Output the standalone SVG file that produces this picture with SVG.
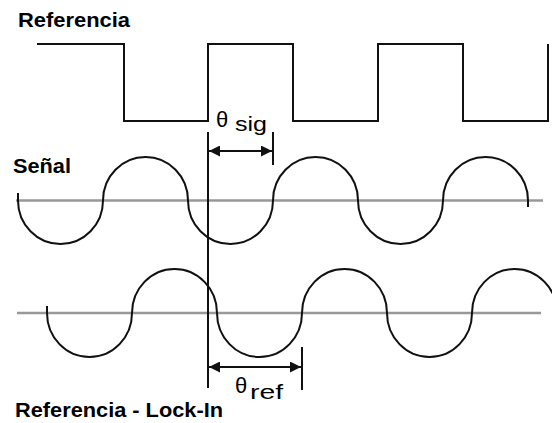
<svg xmlns="http://www.w3.org/2000/svg" width="552" height="423" viewBox="0 0 552 423">
<style>
.lbl{font-family:"Liberation Sans",Arial,sans-serif;font-weight:bold;font-size:20px;fill:#000}
.th{font-family:"Liberation Sans","DejaVu Sans",Arial,sans-serif;font-size:22px;fill:#000}
.sub{font-family:"Liberation Sans",Arial,sans-serif;font-size:20px;fill:#000}
.wave{fill:none;stroke:#111;stroke-width:2}
.axis{fill:none;stroke:#999;stroke-width:2.5}
.ln{fill:none;stroke:#111;stroke-width:2}
</style>
<defs>
<marker id="ah" viewBox="0 0 10 10" refX="10" refY="5" markerWidth="11" markerHeight="11" markerUnits="userSpaceOnUse" orient="auto-start-reverse">
<path d="M0,0 L10,5 L0,10 Z" fill="#111"/>
</marker>
</defs>
<rect width="552" height="423" fill="#fff"/>
<g id="referencia">
<text class="lbl" x="18" y="27" textLength="112" lengthAdjust="spacingAndGlyphs">Referencia</text>
<path class="wave" d="M37,44 H124 V121 H208 V44 H293 V121 H378 V44 H463 V121 H548 V44"/>
</g>
<g id="senal">
<text class="lbl" x="13" y="173" textLength="58" lengthAdjust="spacingAndGlyphs">Señal</text>
<line class="axis" x1="16" y1="200.5" x2="543" y2="200.5"/>
<path class="wave" d="M18,193 V200.5 A42.5,43.5 0 0 0 103,200.5 A42.5,43.5 0 0 1 188,200.5 A42.5,43.5 0 0 0 273,200.5 A42.5,43.5 0 0 1 358,200.5 A42.5,43.5 0 0 0 443,200.5 A42.5,43.5 0 0 1 528,200.5 V207"/>
</g>
<g id="lockin">
<text class="lbl" x="15" y="417" textLength="208" lengthAdjust="spacingAndGlyphs">Referencia - Lock-In</text>
<line class="axis" x1="17" y1="313" x2="541" y2="313"/>
<path class="wave" d="M47,306 V313 A42.5,44 0 0 0 132,313 A42.5,44 0 0 1 217,313 A42.5,44 0 0 0 302,313 A42.5,44 0 0 1 387,313 A42.5,44 0 0 0 472,313 A42.5,44 0 0 1 557,313"/>
</g>
<g id="connectors">
<line class="ln" x1="208" y1="132" x2="208" y2="388"/>
<line class="ln" x1="273" y1="132" x2="273" y2="165"/>
<line class="ln" x1="209" y1="151" x2="272" y2="151" marker-start="url(#ah)" marker-end="url(#ah)"/>
<line class="ln" x1="302" y1="347" x2="302" y2="390"/>
<line class="ln" x1="209" y1="367" x2="301" y2="367" marker-start="url(#ah)" marker-end="url(#ah)"/>
</g>
<g id="theta-sig">
<text class="th" x="216" y="127">θ</text>
<text class="sub" x="235" y="131" textLength="32" lengthAdjust="spacingAndGlyphs">sig</text>
</g>
<g id="theta-ref">
<text class="th" x="235" y="393">θ</text>
<text class="sub" x="250" y="399" textLength="33" lengthAdjust="spacingAndGlyphs">ref</text>
</g>
</svg>
